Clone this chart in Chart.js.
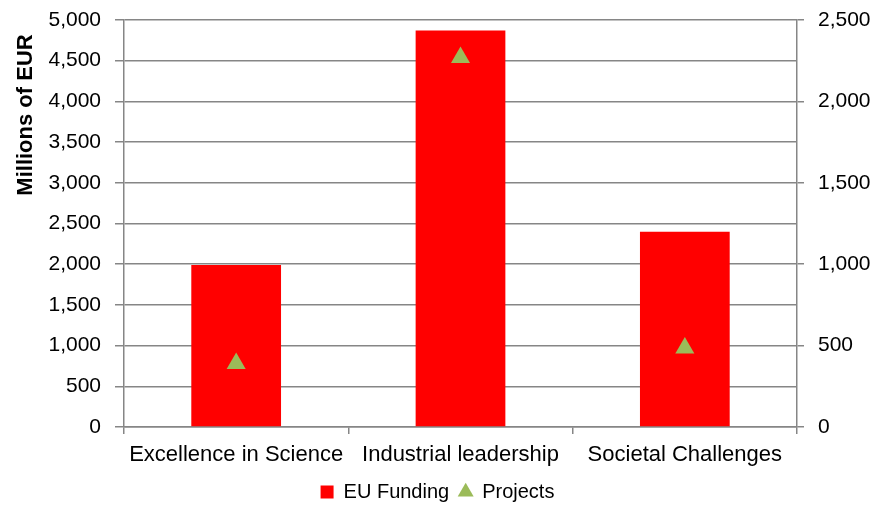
<!DOCTYPE html>
<html><head><meta charset="utf-8">
<script src="https://cdn.jsdelivr.net/npm/chart.js@4.4.0/dist/chart.umd.min.js"></script>
<style>html,body{margin:0;padding:0;background:#fff}#wrap{width:875px;height:508px}</style>
</head><body><div id="wrap"><canvas id="c" width="875" height="508"></canvas></div>
<script>
const categories = ['Excellence in Science', 'Industrial leadership', 'Societal Challenges'];
const euFunding = [1990, 4870, 2400];
const projects = [390, 2270, 485];
const leftTicks = [0, 500, 1000, 1500, 2000, 2500, 3000, 3500, 4000, 4500, 5000];
const rightTicks = [0, 500, 1000, 1500, 2000, 2500];
const yTitle = 'Millions of EUR';

const gridColor = '#868686';
const font = 'Liberation Sans, Arial, sans-serif';
Chart.defaults.font.family = font;
Chart.defaults.color = '#000';

const titlePlugin = {
  id: 'ytitle',
  afterDraw(chart) {
    const ctx = chart.ctx;
    ctx.save();
    ctx.font = 'bold 22px ' + font;
    ctx.fillStyle = '#000';
    ctx.textAlign = 'center';
    ctx.textBaseline = 'middle';
    ctx.translate(26, 115);
    ctx.rotate(-Math.PI / 2);
    ctx.fillText(yTitle, 0, 0);
    ctx.restore();
  }
};

new Chart(document.getElementById('c'), {
  data: {
    labels: categories,
    datasets: [
      { type: 'bar', label: 'EU Funding', data: euFunding, backgroundColor: '#FF0000', borderWidth: 0,
        barPercentage: 0.4, categoryPercentage: 1, yAxisID: 'y', pointStyle: 'rect', order: 2 },
      { type: 'line', label: 'Projects', data: projects, showLine: false, pointStyle: 'triangle',
        pointRadius: 11, pointHoverRadius: 11, backgroundColor: '#9BBB59', borderColor: '#9BBB59', borderWidth: 0,
        yAxisID: 'y1', order: 1 }
    ]
  },
  plugins: [titlePlugin],
  options: {
    responsive: false, animation: false,
    layout: { padding: { top: 20, right: 0, left: 0, bottom: 0 } },
    plugins: {
      legend: { position: 'bottom', maxHeight: 36,
        labels: { usePointStyle: true, boxHeight: 13, boxWidth: 13, padding: 10, font: { size: 20 }, color: '#000',
          sort: (a, b) => a.datasetIndex - b.datasetIndex } },
      tooltip: { enabled: false }
    },
    scales: {
      x: {
        offset: true,
        afterFit: s => { s.height = 45; },
        grid: { offset: true, drawOnChartArea: false, drawTicks: true, tickLength: 7, color: gridColor, lineWidth: 1.5 },
        border: { color: gridColor, width: 1.5 },
        ticks: { font: { size: 22 }, color: '#000', padding: 8, maxRotation: 0 }
      },
      y: {
        position: 'left', min: 0, max: 5000,
        afterFit: s => { s.width = 124; s.paddingTop = 0; s.paddingBottom = 0; },
        afterBuildTicks: s => { s.ticks = leftTicks.map(v => ({ value: v })); },
        grid: { color: gridColor, lineWidth: 1.5, tickLength: 9 },
        border: { color: gridColor, width: 1.5 },
        ticks: { font: { size: 21 }, color: '#000', padding: 14, callback: v => v.toLocaleString('en-US') }
      },
      y1: {
        position: 'right', min: 0, max: 2500,
        afterFit: s => { s.width = 78; s.paddingTop = 0; s.paddingBottom = 0; },
        afterBuildTicks: s => { s.ticks = rightTicks.map(v => ({ value: v })); },
        grid: { drawOnChartArea: false, color: gridColor, lineWidth: 1.5, tickLength: 7 },
        border: { color: gridColor, width: 1.5 },
        ticks: { font: { size: 21 }, color: '#000', padding: 14, callback: v => v.toLocaleString('en-US') }
      }
    }
  }
});
</script></body></html>
